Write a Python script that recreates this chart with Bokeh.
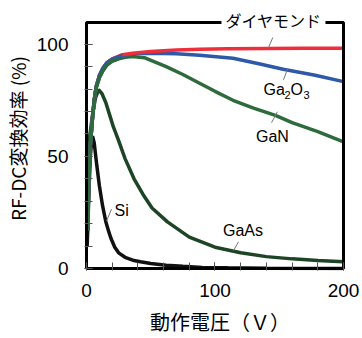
import math
from bokeh.plotting import figure
from bokeh.models import Range1d, FixedTicker, Label
from bokeh.embed import file_html
from bokeh.resources import INLINE

# ---- data ----
v_dia = [1.0, 1.5, 2.2, 3.0, 4.5, 6, 7.5, 10, 12.5, 16, 20, 28, 36, 50, 70, 88, 110, 140, 170, 200]
e_dia = [17, 32, 46, 55, 66, 75, 81, 86, 89, 91.8, 93.5, 95.3, 96.0, 96.8, 97.4, 97.8, 98.0, 98.1, 98.2, 98.2]

v_ga2o3 = [1.0, 1.5, 2.2, 3.0, 4.5, 6, 7.5, 10, 12.5, 16, 20, 28, 36, 50, 70, 88, 114, 135, 153, 177, 200]
e_ga2o3 = [17, 32, 46, 55, 66, 75, 81, 86, 89, 91.8, 93.3, 95.0, 95.7, 96.0, 95.7, 95.1, 93.7, 91.2, 88.8, 86.3, 83.3]

v_gan = [1.0, 1.5, 2.2, 3.0, 4.5, 6, 7.5, 10, 12.5, 16, 20, 25, 30, 36, 45, 62, 75, 88, 100, 114, 130, 147, 160, 180, 200]
e_gan = [17, 32, 46, 55, 66, 75, 80.5, 85, 88, 90.8, 92.5, 93.5, 94.2, 94.5, 94.0, 90.0, 86.5, 82.6, 79.0, 75.0, 71.5, 68.3, 65.0, 61.0, 56.5]

v_gaas = [0.5, 1.2, 2.4, 4.7, 7, 9.4, 12, 15, 18, 21, 25, 30, 37, 44, 51, 63, 80, 100, 120, 140, 160, 180, 200]
e_gaas = [20, 42, 58.5, 68.6, 76, 79.8, 78, 74, 68.5, 63, 57, 49, 40, 33, 27, 20.8, 14, 9.5, 7, 5.3, 4.3, 3.6, 3.0]

v_si = [0.5, 1, 2, 3, 4, 4.7, 6, 8, 10, 12.5, 15, 17, 19, 22, 25, 30, 36, 42, 50, 62, 75, 90, 110, 140, 200]
e_si = [10, 18, 36, 50, 57, 59, 56, 46, 37, 28, 21, 17, 13.5, 9.5, 7, 5, 3.7, 3.0, 2.2, 1.5, 1.0, 0.5, 0.3, 0.1, 0.0]

x_major = [0, 100, 200]
x_minor = list(range(0, 201, 20))
y_major = [0, 50, 100]
y_minor = list(range(0, 101, 10))

x_title = "\u2002動作電圧（Ｖ）"
y_title = "RF-DC変換効率 (%)"

# axes box (data units)
box_x0, box_x1 = 0, 200
box_y0, box_y1 = 0, 109.7

# label anchors (data units) and leader lines (x0, y0, x1, y1)
lab_names = ["Si", "GaAs", "GaN"]
lab_x = [27.3, 121.8, 144.7]
lab_y = [25.7, 16.8, 58.8]
lead_x0 = [15.6, 114.4, 144.0, 153.3, 141.5]
lead_y0 = [21.2, 8.0, 65.0, 84.1, 98.3]
lead_x1 = [19.5, 118.3, 148.6, 156.4, 145.0]
lead_y1 = [26.5, 11.9, 69.9, 88.9, 103.0]

LAT = "Liberation Sans"
JP = "Noto Sans CJK JP"

p = figure(width=362, height=338,
           x_range=Range1d(-1.556, 201.56), y_range=Range1d(-0.885, 116.81),
           output_backend="svg", toolbar_location=None,
           min_border_left=84, min_border_right=17, min_border_top=6, min_border_bottom=66)
p.grid.visible = False
p.outline_line_color = None
p.background_fill_color = "white"
p.border_fill_color = "white"

for ax, maj, mn in ((p.xaxis[0], x_major, x_minor), (p.yaxis[0], y_major, y_minor)):
    ax.ticker = FixedTicker(ticks=maj, minor_ticks=mn)
    ax.axis_line_color = None
    ax.major_tick_in = 8
    ax.major_tick_out = 0
    ax.minor_tick_in = 8
    ax.minor_tick_out = 0
    ax.major_tick_line_color = "#555555"
    ax.minor_tick_line_color = "#555555"
    ax.major_label_text_font = LAT
    ax.major_label_text_font_size = "19px"
    ax.major_label_text_color = "black"
    ax.axis_label_text_font = JP
    ax.axis_label_text_font_style = "normal"
    ax.axis_label_text_color = "black"

p.xaxis.axis_label = x_title
p.yaxis.axis_label = y_title
p.xaxis.axis_label_text_font_size = "20px"
p.yaxis.axis_label_text_font_size = "19px"
p.xaxis.major_label_standoff = 13
p.yaxis.major_label_standoff = 16
p.xaxis.axis_label_standoff = 7
p.yaxis.axis_label_standoff = 3

lw = 3.5
p.line(v_si, e_si, line_color="#111111", line_width=lw)
p.line(v_gaas, e_gaas, line_color="#1c4425", line_width=lw)
p.line(v_gan, e_gan, line_color="#2e6b3c", line_width=lw)
p.line(v_ga2o3, e_ga2o3, line_color="#2f58a8", line_width=lw)
p.line(v_dia, e_dia, line_color="#ee2e3a", line_width=lw)
p.line(v_ga2o3[:12], e_ga2o3[:12], line_color="#2f58a8", line_width=lw)
p.line(v_gan[:12], e_gan[:12], line_color="#2e6b3c", line_width=lw)

# axes box
p.quad(left=[box_x0], right=[box_x1], bottom=[box_y0], top=[box_y1],
       fill_color=None, line_color="black", line_width=3)

p.segment(lead_x0, lead_y0, lead_x1, lead_y1, line_color="#777777", line_width=1)

p.text(lab_x, lab_y, text=lab_names, text_align="center", text_baseline="middle",
       text_font_size="16px", text_color="black", text_font={"value": LAT})

# Ga2O3 with subscripts
ga_x, ga_y = 137.7, 79.6
for txt, off, dy, size in (("Ga", 0, 0, "16px"), ("2", 21, -5, "11px"), ("O", 27, 0, "16px"), ("3", 40, -5, "11px")):
    p.add_layout(Label(x=ga_x, y=ga_y, x_offset=off, y_offset=dy, text=txt, text_align="left",
                       text_baseline="middle", text_font=LAT, text_font_size=size, text_color="black"))

p.add_layout(Label(x=145.5, y=110.6, text="ダイヤモンド", text_align="center", text_baseline="middle",
                   text_font=JP, text_font_size="16px", text_color="black",
                   background_fill_color="white", background_fill_alpha=1.0, padding=4))

open("out.html", "w").write(file_html(p, INLINE))
